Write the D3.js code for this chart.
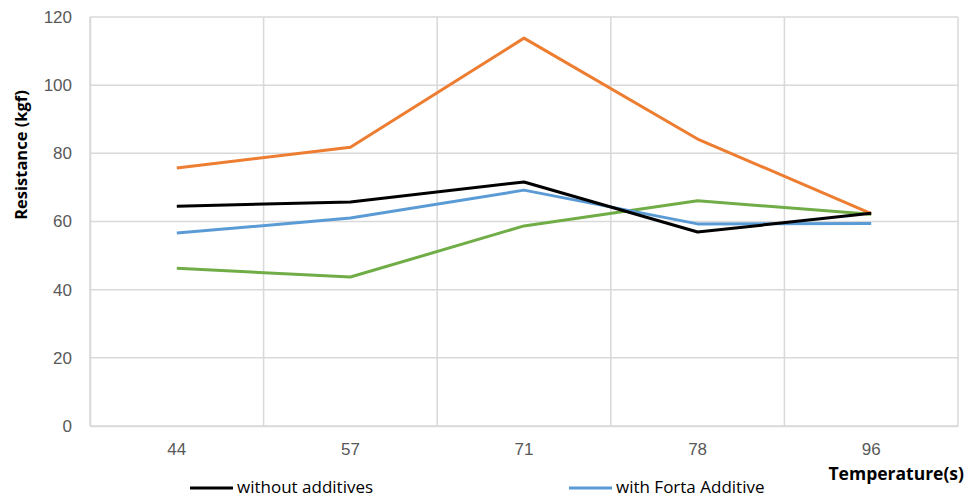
<!DOCTYPE html>
<html>
<head>
<meta charset="utf-8">
<script src="https://cdn.jsdelivr.net/npm/d3@7"></script>
<style>
  html, body { margin: 0; padding: 0; background: #fff; }
  svg { display: block; font-family: "Open Sans", "Noto Sans", sans-serif; }
</style>
</head>
<body>
<svg id="chart" width="970" height="498"></svg>
<script>
// Temperature categories (s)
const categories = ["44", "57", "71", "78", "96"];

// Resistance (kgf) per series
const withoutAdditives = [64.5, 65.7, 71.6, 56.9, 62.4];
const seriesOrange     = [75.7, 81.8, 113.8, 84.2, 62.3];
const withForta        = [56.6, 61.0, 69.2, 59.3, 59.4];
const seriesGreen      = [46.3, 43.7, 58.7, 66.1, 62.1];

const yTicks = [0, 20, 40, 60, 80, 100, 120];

const series = [
  { name: "Series 3", values: seriesGreen, color: "#70AD47" },
  { name: "Series 2", values: seriesOrange, color: "#ED7D31" },
  { name: "with Forta Additive", values: withForta, color: "#5B9BD5" },
  { name: "without additives", values: withoutAdditives, color: "#000000" }
];

const svg = d3.select("#chart");
const margin = { left: 90, right: 12, top: 17, bottom: 72 };
const W = 970, H = 498;

const x = d3.scaleBand().domain(categories).range([margin.left, W - margin.right]);
const y = d3.scaleLinear().domain([0, 120]).range([H - margin.bottom, margin.top]);

// Horizontal gridlines
svg.append("g")
  .selectAll("line").data(yTicks).join("line")
  .attr("x1", margin.left).attr("x2", W - margin.right)
  .attr("y1", d => y(d)).attr("y2", d => y(d))
  .attr("stroke", "#d9d9d9").attr("stroke-width", 1.5);

// Vertical gridlines at band boundaries
const bounds = categories.map(c => x(c)).concat([x(categories[categories.length - 1]) + x.bandwidth()]);
svg.append("g")
  .selectAll("line").data(bounds).join("line")
  .attr("x1", d => d).attr("x2", d => d)
  .attr("y1", y(0)).attr("y2", y(120))
  .attr("stroke", "#d9d9d9").attr("stroke-width", 1.5);

// Y axis
const yAxis = svg.append("g")
  .attr("transform", `translate(${margin.left},0)`)
  .call(d3.axisLeft(y).tickValues(yTicks).tickSize(0).tickPadding(18));
yAxis.select(".domain").attr("stroke", "#d9d9d9").attr("stroke-width", 1.5);
yAxis.selectAll("text").attr("fill", "#595959").attr("font-size", 17);

// X axis
const xAxis = svg.append("g")
  .attr("transform", `translate(0,${y(0)})`)
  .call(d3.axisBottom(x).tickSize(0).tickPadding(17));
xAxis.select(".domain").attr("stroke", "#d9d9d9").attr("stroke-width", 1.5);
xAxis.selectAll("text").attr("fill", "#595959").attr("font-size", 17);

// Lines
const line = d3.line()
  .x((d, i) => x(categories[i]) + x.bandwidth() / 2)
  .y(d => y(d));

svg.append("g")
  .selectAll("path").data(series).join("path")
  .attr("d", d => line(d.values))
  .attr("fill", "none")
  .attr("stroke", d => d.color)
  .attr("stroke-width", 3)
  .attr("stroke-linejoin", "round");

// Axis titles
svg.append("text")
  .attr("transform", `translate(27,155) rotate(-90)`)
  .attr("text-anchor", "middle")
  .attr("font-size", 16.5).attr("font-weight", "bold").attr("fill", "#000")
  .text("Resistance (kgf)");

svg.append("text")
  .attr("x", 964).attr("y", 480)
  .attr("text-anchor", "end")
  .attr("font-size", 17.5).attr("font-weight", "bold").attr("fill", "#000")
  .text("Temperature(s)");

// Legend
const legendItems = [
  { name: "without additives", color: "#000000", x: 190 },
  { name: "with Forta Additive", color: "#5B9BD5", x: 569 }
];
const lg = svg.append("g");
legendItems.forEach(it => {
  lg.append("line")
    .attr("x1", it.x).attr("x2", it.x + 43)
    .attr("y1", 488).attr("y2", 488)
    .attr("stroke", it.color).attr("stroke-width", 3);
  lg.append("text")
    .attr("x", it.x + 47).attr("y", 493)
    .attr("font-size", 17).attr("fill", "#000")
    .text(it.name);
});
</script>
</body>
</html>
